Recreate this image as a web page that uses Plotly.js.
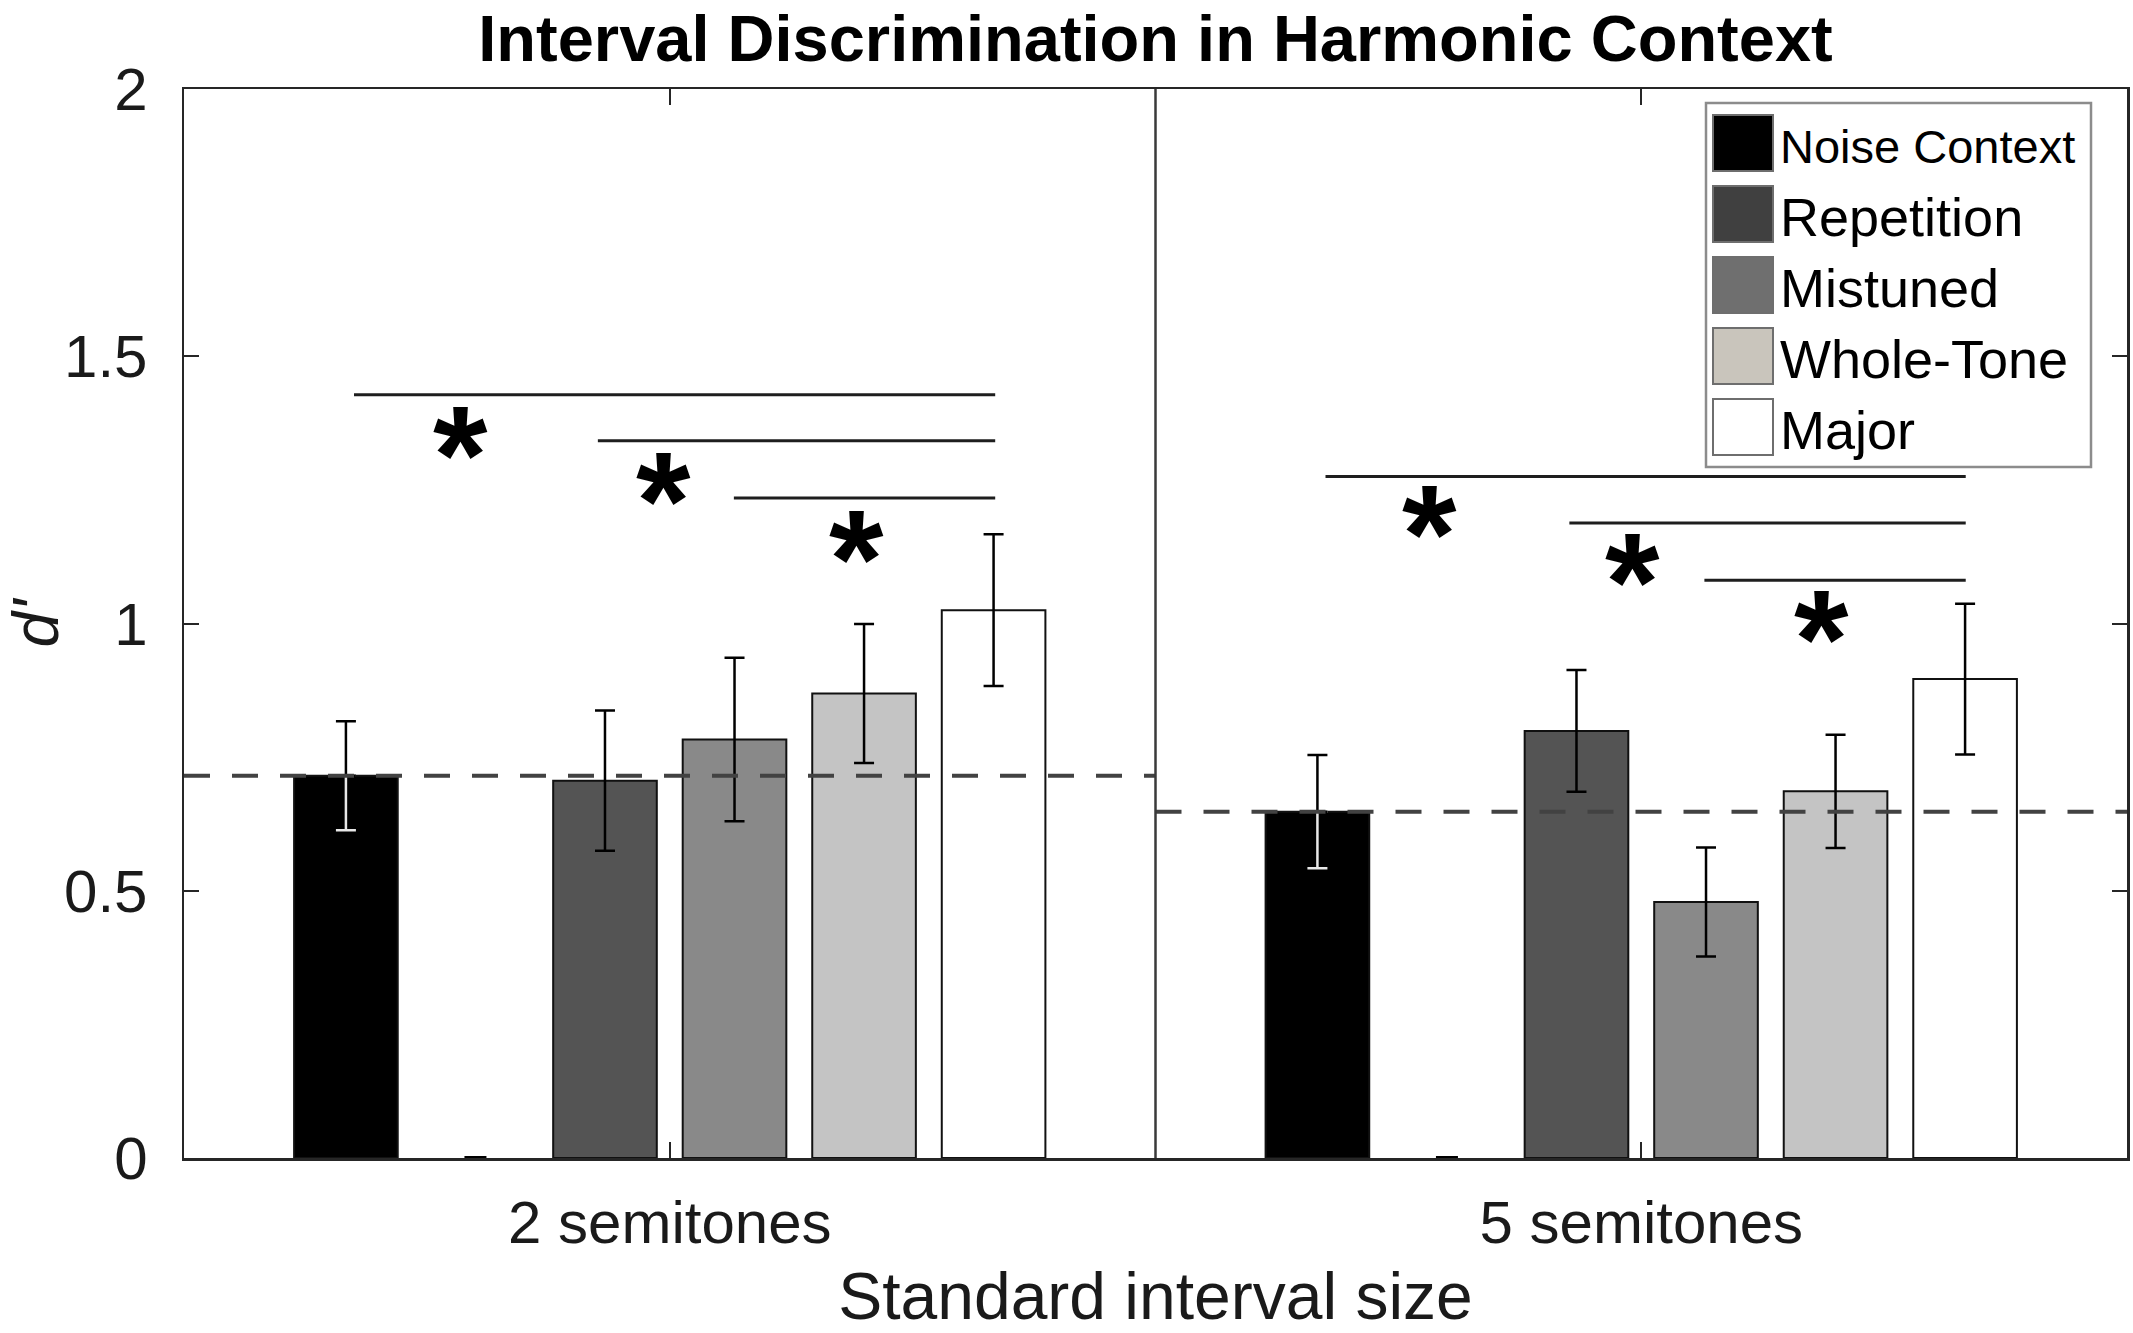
<!DOCTYPE html>
<html>
<head>
<meta charset="utf-8">
<script src="https://cdn.plot.ly/plotly-3.0.1.min.js"></script>
<style>
  html, body { margin: 0; padding: 0; background: #ffffff; }
  #chart { width: 2133px; height: 1333px; }
</style>
</head>
<body>
<div id="chart"></div>
<script>
// ---------------- data ----------------
var categories = ["2 semitones", "5 semitones"];
var catX = [1, 2];

var seriesNames = ["Noise Context", "Repetition", "Mistuned", "Whole-Tone", "Major"];

var noiseVals      = [0.715, 0.648];
var noiseErr       = [0.102, 0.106];
var repetitionVals = [0.706, 0.799];
var repetitionErr  = [0.131, 0.114];
var mistunedVals   = [0.783, 0.479];
var mistunedErr    = [0.153, 0.102];
var wholeToneVals  = [0.869, 0.686];
var wholeToneErr   = [0.130, 0.106];
var majorVals      = [1.025, 0.896];
var majorErr       = [0.142, 0.141];
var blankVals      = [0, 0];

// significance brackets (start x, end x, height) and star positions
var sigStart = [0.675, 0.926, 1.066, 1.675, 1.926, 2.065];
var sigEnd   = [1.335, 1.335, 1.335, 2.334, 2.334, 2.334];
var sigY     = [1.428, 1.342, 1.235, 1.275, 1.188, 1.081];
var starX    = [0.785, 0.994, 1.192, 1.782, 1.991, 2.186];
var starY    = [1.355, 1.270, 1.162, 1.208, 1.118, 1.012];

var yTickVals = [0, 0.5, 1, 1.5, 2];
var yTickText = ["0", "0.5", "1", "1.5", "2"];

// ---------------- styles ----------------
var FONT = "Liberation Sans, Arial, Helvetica, sans-serif";
var barColors    = ["#000000", "#545454", "#898989", "#c4c4c4", "#ffffff"];
var legendColors = ["#000000", "#404040", "#6f6f6f", "#c9c5bc", "#ffffff"];
var AXC = "#262626";

function errObj(plus, minus, color) {
  return {type: "data", symmetric: false, array: plus, arrayminus: minus,
          color: color, thickness: 2.5, width: 10, visible: true};
}
function barTrace(name, vals, err, color, group) {
  return {
    type: "bar", name: name, x: catX, y: vals, offsetgroup: group,
    marker: {color: color, line: {color: "#111111", width: 2}},
    error_y: err ? errObj(err, err, "#000000") : undefined,
    showlegend: false, hoverinfo: "name+y"
  };
}
function zeros(a) { return a.map(function () { return 0; }); }

var traces = [];
// Noise Context bar (error bar drawn in two parts: white over the black bar, black above it)
traces.push(barTrace(seriesNames[0], noiseVals, null, barColors[0], "g0"));
traces.push({type: "bar", x: catX, y: noiseVals, offsetgroup: "g0",
  marker: {color: "rgba(0,0,0,0)", line: {width: 0}}, showlegend: false, hoverinfo: "skip",
  error_y: errObj(zeros(noiseErr), noiseErr, "#e8e8e8")});
traces.push({type: "bar", x: catX, y: noiseVals, offsetgroup: "g0",
  marker: {color: "rgba(0,0,0,0)", line: {width: 0}}, showlegend: false, hoverinfo: "skip",
  error_y: errObj(noiseErr, zeros(noiseErr), "#000000")});
// empty slot
traces.push({type: "bar", x: catX, y: blankVals, offsetgroup: "g1", cliponaxis: false,
  marker: {color: "rgba(0,0,0,0)", line: {width: 0}}, showlegend: false, hoverinfo: "skip",
  error_y: {type: "data", array: zeros(blankVals), color: "#000000", thickness: 4, width: 11}});
traces.push(barTrace(seriesNames[1], repetitionVals, repetitionErr, barColors[1], "g2"));
traces.push(barTrace(seriesNames[2], mistunedVals, mistunedErr, barColors[2], "g3"));
traces.push(barTrace(seriesNames[3], wholeToneVals, wholeToneErr, barColors[3], "g4"));
traces.push(barTrace(seriesNames[4], majorVals, majorErr, barColors[4], "g5"));

// dashed reference lines at the Noise Context level across each category
for (var i = 0; i < catX.length; i++) {
  traces.push({type: "scatter", mode: "lines",
    x: [catX[i] - 0.5, catX[i] + 0.5], y: [noiseVals[i], noiseVals[i]],
    line: {color: "#424242", width: 4, dash: "26px,22px"},
    showlegend: false, hoverinfo: "skip"});
}
// significance lines
for (var j = 0; j < sigY.length; j++) {
  traces.push({type: "scatter", mode: "lines",
    x: [sigStart[j], sigEnd[j]], y: [sigY[j], sigY[j]],
    line: {color: "#1e1e1e", width: 3},
    showlegend: false, hoverinfo: "skip"});
}

// ---------------- layout ----------------
var W = 2133, H = 1333;
var M = {l: 184, r: 6, t: 89, b: 175};
var PW = W - M.l - M.r, PH = H - M.t - M.b;
function px2x(px) { return (px - M.l) / PW; }
function py2y(py) { return (H - M.b - py) / PH; }

var STAR = 140;
var annotations = [];
for (var k = 0; k < starX.length; k++) {
  annotations.push({x: starX[k], y: starY[k], xref: "x", yref: "y", text: "*",
    showarrow: false, xanchor: "center", yanchor: "middle", yshift: -0.23 * STAR + 11,
    font: {family: FONT, size: STAR, color: "#000000", weight: "bold"}});
}

var shapes = [];
// category divider
shapes.push({type: "line", xref: "x", yref: "paper", x0: (catX[0] + catX[1]) / 2, x1: (catX[0] + catX[1]) / 2,
  y0: 0, y1: 1, line: {color: "#3a3a3a", width: 2.5}, layer: "above"});

// custom legend (big square swatches, as in the original)
var LG = {x0: 1706, x1: 2091, y0: 103, y1: 467, sx0: 1713, sx1: 1773, cy0: 143, dy: 71, sh: 56, tx: 1778};
shapes.push({type: "rect", xref: "paper", yref: "paper",
  x0: px2x(LG.x0), x1: px2x(LG.x1), y0: py2y(LG.y1), y1: py2y(LG.y0),
  fillcolor: "#ffffff", line: {color: "#8c8c8c", width: 2.5}, layer: "above"});
for (var s = 0; s < seriesNames.length; s++) {
  var cy = LG.cy0 + s * LG.dy;
  shapes.push({type: "rect", xref: "paper", yref: "paper",
    x0: px2x(LG.sx0), x1: px2x(LG.sx1), y0: py2y(cy + LG.sh / 2), y1: py2y(cy - LG.sh / 2),
    fillcolor: legendColors[s], line: {color: "#6e6e6e", width: 2}, layer: "above"});
  annotations.push({xref: "paper", yref: "paper", x: px2x(LG.tx), y: py2y(cy + 3),
    xanchor: "left", yanchor: "middle", showarrow: false, text: seriesNames[s],
    font: {family: FONT, size: (s === 0 ? 47 : 54), color: "#000000"}});
}

var layout = {
  width: W, height: H, autosize: false,
  margin: {l: M.l, r: M.r, t: M.t, b: M.b, pad: 0},
  paper_bgcolor: "#ffffff", plot_bgcolor: "#ffffff",
  font: {family: FONT, color: "#111111"},
  barmode: "group", bargap: 0.2, bargroupgap: 0.2,
  showlegend: false,
  title: {text: "<b>Interval Discrimination in Harmonic Context</b>",
    font: {family: FONT, size: 65, color: "#000000"},
    x: 0.5, xref: "paper", xanchor: "center", y: 1 - 38 / H, yref: "container", yanchor: "middle"},
  xaxis: {
    range: [0.5, 2.5], tickvals: catX, ticktext: categories,
    showline: true, linecolor: AXC, linewidth: 2.5, mirror: "ticks",
    ticks: "inside", ticklen: 16, tickwidth: 2, tickcolor: AXC,
    showgrid: false, zeroline: false, ticklabelstandoff: 10,
    tickfont: {family: FONT, size: 60, color: "#1a1a1a"},
    title: {text: "Standard interval size", standoff: 36,
      font: {family: FONT, size: 66, color: "#1a1a1a"}}
  },
  yaxis: {
    range: [0, 2], tickvals: yTickVals, ticktext: yTickText,
    showline: true, linecolor: AXC, linewidth: 2.5, mirror: "ticks",
    ticks: "inside", ticklen: 15, tickwidth: 2, tickcolor: AXC,
    showgrid: false, zeroline: false, ticklabelstandoff: 22,
    tickfont: {family: FONT, size: 60, color: "#1a1a1a"},
    title: {text: "<i>d'</i>", standoff: 30,
      font: {family: FONT, size: 64, color: "#1a1a1a"}}
  },
  shapes: shapes,
  annotations: annotations
};

Plotly.newPlot("chart", traces, layout, {displayModeBar: false, staticPlot: true});
</script>
</body>
</html>
